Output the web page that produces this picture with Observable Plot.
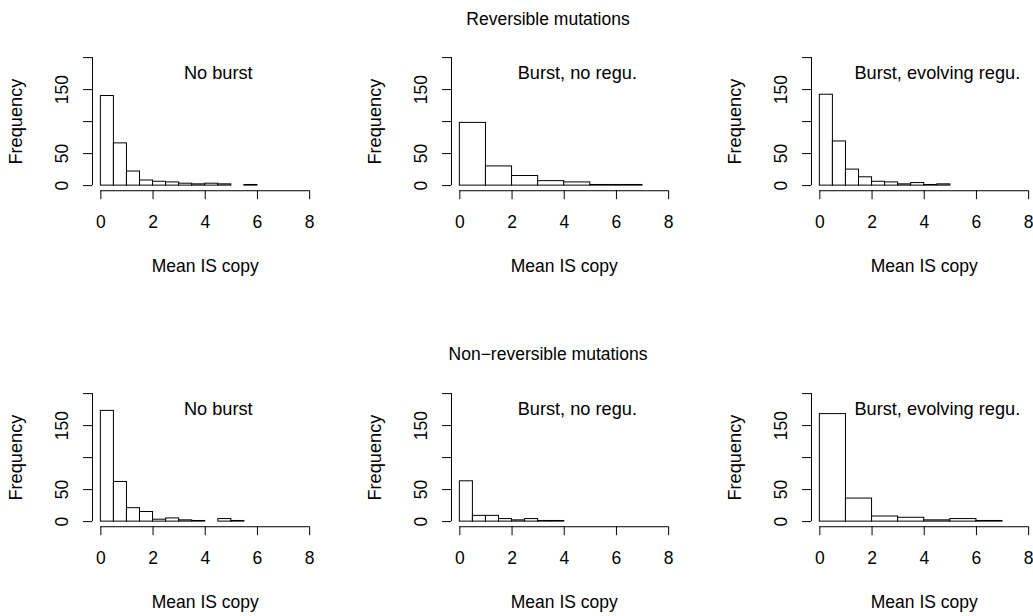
<!DOCTYPE html>
<html><head><meta charset="utf-8">
<script src="https://cdn.jsdelivr.net/npm/d3@7"></script>
<script src="https://cdn.jsdelivr.net/npm/@observablehq/plot@0.6"></script>
<style>
html,body{margin:0;padding:0;background:#fff;overflow:hidden;}
#fig{position:relative;width:1033px;height:616px;overflow:hidden;font-family:"Liberation Sans",Arial,Helvetica,sans-serif;}
.ttl{position:absolute;font-size:17.5px;line-height:1;transform:translate(-50%,-50%);white-space:nowrap;color:#000}
#fig svg{position:absolute;overflow:visible;background:transparent}
</style></head><body><div id="fig"></div>
<script>
// ---- data ----
const rowTitles = ["Reversible mutations", "Non\u2212reversible mutations"];
const panelLabels = ["No burst", "Burst, no regu.", "Burst, evolving regu."];
const xLabel = "Mean IS copy";
const yLabel = "Frequency";
const xTicks = [0, 2, 4, 6, 8];
const yTicks = [0, 50, 100, 150, 200];
const yTickLabels = [0, 50, 150];

// counts per bin (bins start at 0)
const revNoBurst      = [140, 66, 22, 8, 6, 5, 3, 2, 3, 2, 0, 1];   // width 0.5
const revBurstNoRegu  = [98, 30, 15, 7, 5, 1, 1];                   // width 1
const revBurstEvol    = [142, 69, 25, 13, 6, 5, 2, 4, 1, 2];        // width 0.5
const nonNoBurst      = [173, 62, 21, 15, 3, 5, 2, 1, 0, 4, 1];     // width 0.5
const nonBurstNoRegu  = [63, 9, 9, 4, 2, 4, 1, 1];                  // width 0.5
const nonBurstEvol    = [168, 36, 8, 6, 2, 4, 1];                   // width 1
const binWidths = [[0.5, 1, 0.5], [0.5, 0.5, 1]];
const counts = [[revNoBurst, revBurstNoRegu, revBurstEvol], [nonNoBurst, nonBurstNoRegu, nonBurstEvol]];
const labelX = 4.5, labelY = 175;

// ---- layout ----
const fig = document.getElementById("fig");
const FONT = 17.5, LFONT = 18.2;
const xDomain = [-0.32, 8.32], yDomain = [-8, 208];
const pxPerX = 26.1, pxPerY = 0.64;
const mL = 92, mR = 10, mT = 10, mB = 90;
const frameW = (xDomain[1] - xDomain[0]) * pxPerX;
const frameH = (yDomain[1] - yDomain[0]) * pxPerY;

for (let r = 0; r < 2; r++) {
  const t = document.createElement("div");
  t.className = "ttl";
  t.textContent = rowTitles[r];
  t.style.left = "548px";
  t.style.top = (20 + r * 335) + "px";
  fig.appendChild(t);
  for (let c = 0; c < 3; c++) {
    const w = binWidths[r][c];
    const data = counts[r][c].map((v, i) => ({x1: i * w, x2: (i + 1) * w, y1: 0, y2: v}));
    const svg = Plot.plot({
      width: mL + frameW + mR,
      height: mT + frameH + mB,
      marginLeft: mL, marginRight: mR, marginTop: mT, marginBottom: mB,
      x: {domain: xDomain, label: null},
      y: {domain: yDomain, label: null},
      style: {fontFamily: '"Liberation Sans",Arial,Helvetica,sans-serif', fontSize: FONT + "px", color: "black", background: "transparent", overflow: "visible"},
      marks: [
        Plot.rect(data, {x1: "x1", x2: "x2", y1: "y1", y2: "y2", fill: "white", stroke: "black", strokeWidth: 1}),
        Plot.ruleY([yDomain[0]], {x1: xTicks[0], x2: xTicks[xTicks.length - 1], stroke: "black", strokeWidth: 1}),
        Plot.ruleX([xDomain[0]], {y1: yTicks[0], y2: yTicks[yTicks.length - 1], stroke: "black", strokeWidth: 1}),
        Plot.axisX({ticks: xTicks, tickSize: 9, tickPadding: 16, fontSize: FONT, label: null, stroke: "black", strokeOpacity: 1}),
        Plot.axisY({ticks: yTicks, tickSize: 9, tickFormat: () => "", label: null, stroke: "black", strokeOpacity: 1}),
        Plot.text(yTickLabels, {frameAnchor: "left", y: d => d, text: d => String(d), rotate: -90, dx: -25, textAnchor: "middle", lineAnchor: "bottom", fontSize: FONT, fill: "black"}),
        Plot.text([yLabel], {frameAnchor: "left", y: () => (yTicks[0] + yTicks[yTicks.length - 1]) / 2, text: d => d, rotate: -90, dx: -71, textAnchor: "middle", lineAnchor: "bottom", fontSize: LFONT, fill: "black"}),
        Plot.text([xLabel], {frameAnchor: "bottom", text: d => d, dy: 69, lineAnchor: "top", fontSize: FONT, fill: "black"}),
        Plot.text([panelLabels[c]], {x: () => labelX, y: () => labelY, text: d => d, textAnchor: "middle", lineAnchor: "middle", fontSize: LFONT, fill: "black"})
      ]
    });
    svg.style.left = (c * 359.2 + 0.25) + "px";
    svg.style.top = (51.58 - mT + r * 336) + "px";
    fig.appendChild(svg);
  }
}
</script></body></html>
